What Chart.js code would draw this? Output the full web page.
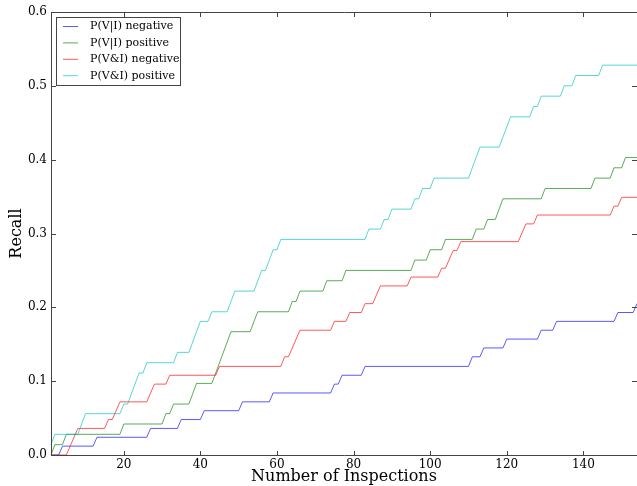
<!DOCTYPE html>
<html>
<head>
<meta charset="utf-8">
<title>Recall vs inspections</title>
<script src="https://cdn.jsdelivr.net/npm/chart.js@4.4.1/dist/chart.umd.min.js"></script>
<style>
  html, body { margin: 0; padding: 0; background: #fff; }
  #wrap { width: 637px; height: 486px; }
</style>
</head>
<body>
<div id="wrap"><canvas id="recallChart" width="637" height="486"></canvas></div>
<script>
//-----------------------------------------
// DATA (corner points of each step curve)
//-----------------------------------------
const seriesLabels = ["P(V|I) negative", "P(V|I) positive", "P(V&I) negative", "P(V&I) positive"];
const seriesColors = ["rgba(0,0,255,0.65)", "rgba(0,128,0,0.65)", "rgba(255,0,0,0.65)", "rgba(0,191,191,0.65)"];

const xTicks = [20, 40, 60, 80, 100, 120, 140];
const yTicks = [0, 0.1, 0.2, 0.3, 0.4, 0.5, 0.6];

// P(V|I) negative
const viNegX = [1,3,4,12,13,26,27,34,35,40,41,50,51,58,59,74,75,76,77,82,83,110,111,113,114,119,120,128,129,132,133,148,149,153,154];
const viNegY = [0,0,.012,.012,.024,.024,.036,.036,.048,.048,.060,.060,.072,.072,.084,.084,.096,.096,.108,.108,.120,.120,.133,.133,.145,.145,.157,.157,.169,.169,.181,.181,.193,.193,.205];

// P(V|I) positive
const viPosX = [1,2,4,5,19,20,30,31,32,33,37,38,39,43,48,53,54,55,63,64,65,66,72,73,77,78,95,96,99,100,103,104,111,112,114,115,117,118,119,129,130,142,143,147,148,150,151,154];
const viPosY = [0,.014,.014,.028,.028,.042,.042,.056,.056,.069,.069,.083,.097,.097,.167,.167,.181,.194,.194,.208,.208,.222,.222,.236,.236,.250,.250,.264,.264,.278,.278,.292,.292,.306,.306,.319,.319,.333,.347,.347,.361,.361,.375,.375,.389,.389,.403,.403];

// P(V&I) negative
const vandNegX = [1,5,8,15,16,17,19,26,28,31,32,44,45,61,62,63,66,74,75,78,79,82,83,85,87,94,95,102,103,104,106,107,108,123,125,127,128,147,148,149,150,154];
const vandNegY = [0,0,.036,.036,.048,.048,.072,.072,.096,.096,.108,.108,.120,.120,.133,.133,.169,.169,.181,.181,.193,.193,.205,.205,.229,.229,.241,.241,.253,.253,.277,.277,.289,.289,.313,.313,.325,.325,.337,.337,.349,.349];

// P(V&I) positive
const vandPosX = [1,2,8,10,19,20,21,24,25,26,33,34,37,40,42,43,47,49,54,56,57,59,60,61,83,84,87,88,89,90,95,96,97,98,100,101,110,113,118,121,126,127,128,129,134,135,137,138,144,145,154];
const vandPosY = [.014,.028,.028,.056,.056,.069,.069,.111,.111,.125,.125,.139,.139,.181,.181,.194,.194,.222,.222,.250,.250,.278,.278,.292,.292,.306,.306,.319,.319,.333,.333,.347,.347,.361,.361,.375,.375,.417,.417,.458,.458,.472,.472,.486,.486,.500,.500,.514,.514,.528,.528];

const seriesX = [viNegX, viPosX, vandNegX, vandPosX];
const seriesY = [viNegY, viPosY, vandNegY, vandPosY];

const FONT = "'DejaVu Serif', 'Liberation Serif', serif";


//-----------------------------------------
// FRAME + INWARD TICKS (matplotlib look)
//-----------------------------------------
const framePlugin = {
  id: "frame",
  afterDatasetsDraw(chart) {
    const { ctx, chartArea: a } = chart;
    const xs = chart.scales.x, ys = chart.scales.y;
    ctx.save();
    ctx.strokeStyle = "#444";
    ctx.lineWidth = 1;
    ctx.beginPath();
    ctx.rect(a.left + 0.5, a.top + 0.5, a.right - a.left, a.bottom - a.top);
    ctx.stroke();

    ctx.beginPath();
    for (let v of xTicks) {
      const px = Math.round(xs.getPixelForValue(v)) + 0.5;
      ctx.moveTo(px, a.bottom); ctx.lineTo(px, a.bottom - 4);
      ctx.moveTo(px, a.top); ctx.lineTo(px, a.top + 5);
    }
    for (let v of yTicks) {
      const py = Math.round(ys.getPixelForValue(v)) + 0.5;
      ctx.moveTo(a.left, py); ctx.lineTo(a.left + 5, py);
      ctx.moveTo(a.right, py); ctx.lineTo(a.right - 5, py);
    }
    ctx.stroke();
    ctx.restore();
  }
};


//-----------------------------------------
// LEGEND BOX (upper left, inside axes)
//-----------------------------------------
const legendPlugin = {
  id: "boxLegend",
  afterDraw(chart) {
    const ctx = chart.ctx;
    const bx = 56.5, by = 17.5, bw = 124, bh = 68;
    ctx.save();
    ctx.fillStyle = "#fff";
    ctx.fillRect(bx, by, bw, bh);
    ctx.strokeStyle = "#444";
    ctx.lineWidth = 1;
    ctx.strokeRect(bx, by, bw, bh);

    ctx.font = "11px " + FONT;
    ctx.textBaseline = "middle";
    ctx.fillStyle = "#000";
    seriesLabels.forEach((label, i) => {
      const rowY = 26.5 + i * 16.4;
      ctx.strokeStyle = seriesColors[i];
      ctx.beginPath();
      ctx.moveTo(63, rowY);
      ctx.lineTo(78, rowY);
      ctx.stroke();
      ctx.fillText(label, 90, rowY);
    });
    ctx.restore();
  }
};


//-----------------------------------------
// CHART
//-----------------------------------------
const datasets = seriesLabels.map((label, i) => ({
  label,
  data: seriesX[i].map((x, j) => ({ x, y: seriesY[i][j] })),
  borderColor: seriesColors[i],
  backgroundColor: seriesColors[i],
  borderWidth: 1,
  pointRadius: 0,
  tension: 0,
  fill: false,
  clip: 2,
  order: 3 - i
}));

new Chart(document.getElementById("recallChart"), {
  type: "line",
  data: { datasets },
  plugins: [framePlugin, legendPlugin],
  options: {
    responsive: false,
    animation: false,
    layout: { padding: { top: 12, right: 0, left: 0, bottom: 0 } },
    plugins: {
      legend: { display: false },
      tooltip: { enabled: false }
    },
    scales: {
      x: {
        type: "linear",
        min: 1,
        max: 154,
        afterBuildTicks: s => { s.ticks = xTicks.map(v => ({ value: v })); },
        afterFit: s => { s.height = 31; },
        grid: { display: false, drawTicks: false },
        border: { display: false },
        ticks: {
          color: "#000",
          padding: 3,
          maxRotation: 0,
          autoSkip: false,
          font: { family: FONT, size: 12 }
        },
        title: {
          display: true,
          text: "Number of Inspections",
          color: "#000",
          font: { family: FONT, size: 16, lineHeight: 1 },
          padding: { top: 0, bottom: 1 }
        }
      },
      y: {
        type: "linear",
        min: 0,
        max: 0.6,
        afterBuildTicks: s => { s.ticks = yTicks.map(v => ({ value: v })); },
        afterFit: s => { s.width = 51; },
        grid: { display: false, drawTicks: false },
        border: { display: false },
        ticks: {
          color: "#000",
          padding: 4,
          callback: v => Number(v).toFixed(1),
          font: { family: FONT, size: 12 }
        },
        title: {
          display: true,
          text: "Recall",
          color: "#000",
          font: { family: FONT, size: 16, lineHeight: 1 },
          padding: { top: 9, bottom: 0 }
        }
      }
    }
  }
});
</script>
</body>
</html>
